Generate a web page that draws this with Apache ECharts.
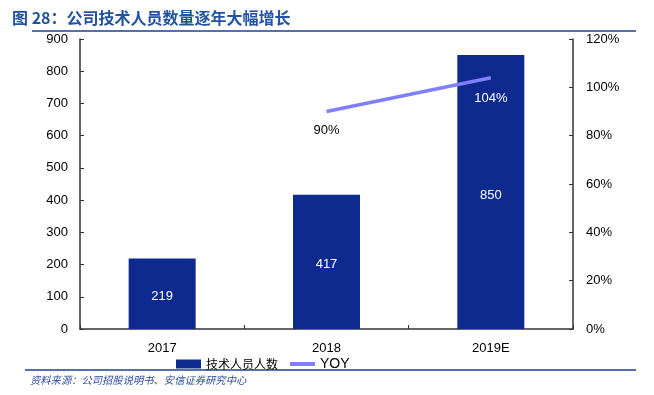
<!DOCTYPE html>
<html><head><meta charset="utf-8">
<script src="https://cdn.jsdelivr.net/npm/echarts@6/dist/echarts.min.js"></script>
<style>html,body{margin:0;padding:0;background:#fff}#c{width:654px;height:395px}</style>
</head><body><div id="c"></div>
<script>
const categories = ['2017', '2018', '2019E'];
const staff = [219, 417, 850];
const yoy = [null, 0.90, 1.04];
const leftTicks = [0, 900, 100];
const rightTicks = [0, 1.2, 0.2];

const chart = echarts.init(document.getElementById('c'), null, {renderer: 'canvas'});
const numFont = '"Liberation Sans", Arial, sans-serif';
const cjk = '"Noto Sans CJK SC", sans-serif';
chart.setOption({
  animation: false,
  textStyle: {fontFamily: numFont},
  grid: {left: 80, right: 81, top: 39, bottom: 66},
  title: {
    text: '图 28：公司技术人员数量逐年大幅增长',
    left: 7, top: 5,
    textStyle: {fontFamily: cjk, fontSize: 16, fontWeight: 'bold', color: '#2353A0'}
  },
  graphic: [
    {type: 'line', shape: {x1: 32, y1: 31, x2: 636, y2: 31}, style: {stroke: '#1F3F90', lineWidth: 1.5}},
    {type: 'line', shape: {x1: 25, y1: 370, x2: 636, y2: 370}, style: {stroke: '#1F3F90', lineWidth: 1.5}},
    {type: 'text', left: 30, top: 375, style: {text: '资料来源：公司招股说明书、安信证券研究中心', font: 'italic 10.3px "Noto Sans CJK SC"', fill: '#2A4AA0'}}
  ],
  legend: {
    left: 171, top: 352,
    itemWidth: 25, itemHeight: 9, itemGap: 12,
    textStyle: {fontSize: 12, color: '#000', fontFamily: cjk},
    data: [
      {name: '技术人员人数', icon: 'rect'},
      {name: 'YOY', icon: 'path://M0,0H25V4H0Z', itemStyle: {color: '#8080FF'}, textStyle: {fontFamily: numFont, fontSize: 14}}
    ]
  },
  xAxis: {
    type: 'category', data: categories,
    axisLine: {lineStyle: {color: '#333', width: 1.5}},
    axisTick: {show: true, inside: true, length: 4, lineStyle: {color: '#333'}},
    axisLabel: {color: '#000', fontSize: 13, margin: 13}
  },
  yAxis: [
    {type: 'value', min: leftTicks[0], max: leftTicks[1], interval: leftTicks[2],
     axisLine: {show: true, lineStyle: {color: '#333', width: 1.5}},
     axisTick: {show: true, inside: true, length: 4, lineStyle: {color: '#333'}},
     splitLine: {show: false},
     axisLabel: {color: '#000', fontSize: 13, margin: 12}},
    {type: 'value', min: rightTicks[0], max: rightTicks[1], interval: rightTicks[2],
     axisLine: {show: true, lineStyle: {color: '#333', width: 1.5}},
     axisTick: {show: true, inside: true, length: 4, lineStyle: {color: '#333'}},
     splitLine: {show: false},
     axisLabel: {color: '#000', fontSize: 13, margin: 13, formatter: v => Math.round(v * 100) + '%'}}
  ],
  series: [
    {name: '技术人员人数', type: 'bar', data: staff, barWidth: 67,
     itemStyle: {color: '#0E2A8E'},
     label: {show: true, position: 'inside', offset: [0, 3], color: '#fff', fontSize: 13}},
    {name: 'YOY', type: 'line', yAxisIndex: 1, symbol: 'circle', symbolSize: 0.01, showSymbol: true,
     data: yoy.map((v, i) => ({value: v, label: {color: i === 2 ? '#fff' : '#000', distance: i === 2 ? 14 : 12}})),
     lineStyle: {color: '#8080FF', width: 3.5},
     itemStyle: {color: '#8080FF'},
     label: {show: true, position: 'bottom', distance: 12, fontSize: 13,
             formatter: p => Math.round(p.value * 100) + '%'}}
  ]
});
</script></body></html>
